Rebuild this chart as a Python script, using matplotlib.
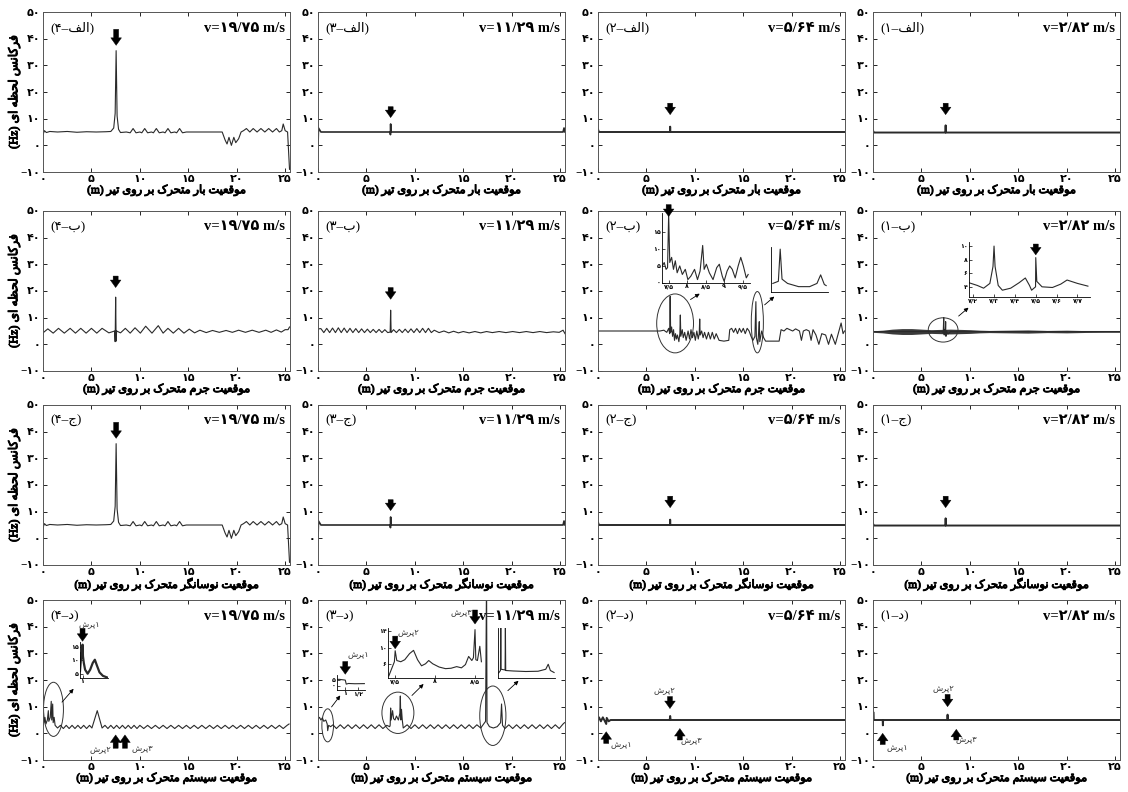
import matplotlib
matplotlib.use("Agg")
import matplotlib.pyplot as plt
import matplotlib.patheffects as pe
from matplotlib.patches import Ellipse

# ---- values ----
speeds = [19.75, 11.29, 5.64, 2.82]          # one per column, left to right
panel_nums = [4, 3, 2, 1]
row_letters = ["الف", "ب", "ج", "د"]
row_subjects = ["بار", "جرم", "نوسانگر", "سیستم"]
x_ticks = [0, 5, 10, 15, 20, 25]
y_ticks = [-10, 0, 10, 20, 30, 40, 50]

# moving load (rows الف and ج are the same curves)
load_v1975 = [(0, 4.0), (0.15, 5.5), (0.35, 4.8), (0.7, 5.2), (1.5, 5.0), (2.5, 5.2), (3.5, 4.9), (4.5, 5.1),
              (5.5, 5.0), (6.5, 5.1), (7.0, 5.2), (7.3, 6.5), (7.45, 12.0), (7.55, 35.5), (7.65, 11.0),
              (7.8, 6.0), (8.0, 4.8), (8.6, 5.0), (9.0, 4.7), (9.3, 6.3), (9.6, 4.7), (10.0, 5.0), (10.2, 4.7),
              (10.5, 6.3), (10.8, 4.7), (11.2, 5.0), (11.4, 4.7), (11.7, 6.3), (12.0, 4.7), (12.4, 5.0),
              (12.6, 4.7), (12.9, 6.3), (13.2, 4.7), (13.6, 5.0), (13.8, 4.7), (14.1, 6.3), (14.4, 4.7),
              (14.8, 5.0), (16.0, 5.0), (17.5, 5.0), (18.5, 5.0), (18.8, 2.0), (19.0, 0.5), (19.2, 3.0),
              (19.45, 0.0), (19.7, 3.0), (19.9, 1.0), (20.2, 2.5), (20.45, 5.0), (20.7, 5.5), (21.0, 6.3),
              (21.35, 5.0), (21.7, 6.3), (22.1, 5.0), (22.5, 6.3), (22.9, 5.0), (23.3, 6.3), (23.7, 5.0),
              (24.1, 6.3), (24.4, 5.0), (24.65, 5.5), (24.8, 8.0), (25.0, 5.5), (25.25, 5.0), (25.45, -9.0)]
load_v1129 = [(0, 0.0), (0.05, 6.5), (0.3, 5.0), (7.45, 5.0), (7.48, 4.0), (7.5, 8.0), (7.52, 5.0),
              (25.3, 5.0), (25.4, 6.5), (25.5, 5.0)]
load_v564 = [(0, 6.0), (0.1, 5.0), (7.43, 5.0), (7.45, 7.0), (7.47, 5.0), (25.5, 5.0)]
load_v282 = [(0, 5.5), (0.1, 4.8), (7.48, 4.8), (7.5, 7.5), (7.52, 4.8), (25.5, 4.8)]

# moving mass (row ب)
mass_v1975 = [(0, 4.3), (0.5, 5.8), (1.05, 4.2), (1.6, 6.0), (2.2, 4.2), (2.8, 6.0), (3.35, 4.2), (3.9, 6.0),
              (4.45, 4.2), (5.0, 6.0), (5.55, 4.2), (6.1, 6.0), (6.8, 4.3), (7.4, 5.0), (7.45, 1.0),
              (7.5, 17.7), (7.55, 1.2), (7.6, 5.0), (8.0, 4.3), (8.5, 6.0), (9.0, 4.2), (9.5, 6.2), (10.05, 4.2),
              (10.6, 6.8), (11.25, 4.2), (11.9, 7.0), (12.4, 4.2), (12.9, 6.0), (13.45, 4.2), (14.0, 6.0),
              (14.55, 4.2), (15.1, 5.7), (15.65, 4.3), (16.2, 5.3), (16.85, 4.4), (17.5, 5.2), (18.2, 4.5),
              (18.9, 5.2), (19.55, 4.5), (20.2, 5.3), (20.9, 4.5), (21.6, 5.3), (22.3, 4.5), (23.0, 5.3),
              (23.55, 4.5), (24.1, 5.4), (24.6, 4.6), (25.0, 5.5), (25.3, 5.5), (25.45, 6.5)]
mass_v1129 = [(0, 0.3), (0.05, 5.8), (0.3, 5.9), (0.6, 4.4), (0.9, 6.0), (1.2, 4.4), (1.5, 6.1), (1.8, 4.4),
              (2.1, 6.2), (2.4, 4.4), (2.7, 6.1), (3.0, 4.4), (3.3, 6.0), (3.6, 4.4), (3.9, 5.9), (4.2, 4.4),
              (4.5, 5.8), (4.8, 4.4), (5.1, 5.7), (5.4, 4.4), (5.7, 5.6), (6.0, 4.4), (6.3, 5.6), (6.6, 4.4),
              (6.9, 5.5), (7.2, 4.4), (7.45, 4.6), (7.5, 12.8), (7.55, 4.4), (7.8, 5.5), (8.1, 4.4), (8.4, 5.6),
              (8.7, 4.4), (9.0, 5.7), (9.3, 4.4), (9.6, 5.8), (9.9, 4.4), (10.2, 5.9), (10.5, 4.4), (10.8, 6.0),
              (11.1, 4.4), (11.4, 6.0), (11.7, 4.4), (12.0, 5.3), (12.5, 4.4), (13.0, 5.0), (13.5, 4.3),
              (14.0, 4.9), (14.5, 4.3), (15.0, 4.8), (15.6, 4.3), (16.2, 4.8), (16.8, 4.3), (17.4, 4.8),
              (18.0, 4.4), (18.7, 4.8), (19.4, 4.4), (20.1, 4.8), (20.8, 4.4), (21.5, 4.8), (22.2, 4.4),
              (22.9, 4.8), (23.6, 4.4), (24.3, 4.7), (24.9, 4.5), (25.3, 5.3), (25.5, 4.0)]
mass_v564 = [(0, 5.0), (6.4, 5.0), (6.8, 5.3), (7.1, 4.5), (7.3, 6.0), (7.4, 4.0), (7.45, 18.0), (7.5, 4.5),
             (7.6, 6.5), (7.7, 3.0), (7.8, 5.5), (7.9, 1.5), (8.0, 4.0), (8.1, 2.0), (8.2, 3.5), (8.35, 1.0),
             (8.45, 4.0), (8.5, 11.0), (8.55, 3.0), (8.7, 5.5), (8.8, 2.5), (8.95, 4.5), (9.1, 1.5), (9.3, 5.0),
             (9.45, 2.0), (9.6, 5.5), (9.75, 2.5), (9.9, 4.5), (10.05, 1.5), (10.2, 5.0), (10.35, 2.0),
             (10.45, 4.0), (10.5, 9.5), (10.55, 3.5), (10.7, 5.0), (10.85, 2.5), (11.0, 4.5), (11.2, 2.0),
             (11.4, 4.5), (11.6, 2.0), (11.8, 4.5), (12.0, 2.0), (12.2, 4.0), (12.5, 1.5), (13.0, 1.2),
             (13.5, 1.5), (13.6, 5.5), (13.8, 6.0), (14.0, 4.5), (14.2, 6.0), (14.4, 4.0), (14.6, 6.0),
             (14.8, 4.5), (15.0, 6.0), (15.2, 4.0), (15.4, 6.0), (15.6, 5.0), (15.8, 3.0), (16.0, 1.5),
             (16.2, 3.0), (16.3, 16.0), (16.35, 2.5), (16.5, 0.0), (16.6, 5.5), (16.65, 8.5), (16.7, 1.0),
             (16.9, 5.0), (17.1, 2.5), (17.3, 1.2), (18.0, 1.2), (18.7, 1.2), (18.9, 5.5), (19.2, 5.0),
             (19.5, 6.0), (19.8, 5.5), (20.1, 5.0), (20.4, 5.8), (20.8, 5.0), (21.0, 1.5), (21.2, 5.0),
             (21.5, 5.5), (21.8, 5.0), (22.0, 1.5), (22.2, 5.5), (22.5, 3.5), (22.8, 0.0), (23.1, 4.0),
             (23.5, 3.5), (23.8, 0.0), (24.1, 3.8), (24.5, 0.0), (24.8, 4.0), (25.1, 8.0), (25.3, 4.0),
             (25.45, 5.0)]
mass_v282 = [(0, 4.8), (7.2, 4.8), (7.25, 4.3), (7.3, 10.0), (7.35, 3.5), (7.43, 5.5), (7.47, 4.0),
             (7.5, 8.5), (7.51, 4.5), (7.53, 3.0), (7.6, 5.0), (7.73, 3.8), (8.0, 4.8), (25.5, 4.8)]
# envelope of the fast ripple on the v=2.82 mass curve
mass_v282_band_x = [0, 1, 2, 3, 4, 5, 6, 7, 8, 9, 10, 11, 12, 14, 16, 18, 20, 22, 24, 25.5]
mass_v282_band_hw = [0.3, 0.5, 0.9, 1.1, 1.1, 0.9, 0.7, 0.8, 0.9, 0.8, 0.7, 0.5, 0.4, 0.5, 0.6, 0.4, 0.5, 0.35, 0.3, 0.3]

# moving system (row د)
sys_v1975 = [(0, 3.0), (0.02, 14.5), (0.08, 4.0), (0.2, 6.0), (0.3, 3.5), (0.45, 5.0), (0.55, 8.5), (0.6, 4.5),
             (0.75, 6.0), (0.85, 12.0), (0.9, 5.0), (1.0, 11.0), (1.05, 4.0), (1.15, 6.0), (1.25, 3.0),
             (1.5, 2.0), (1.8, 3.0), (2.1, 1.8), (2.4, 3.0), (2.7, 1.8), (3.0, 3.0), (3.3, 1.8), (3.6, 3.0),
             (3.9, 1.8), (4.2, 3.0), (4.5, 1.8), (4.8, 3.0), (5.05, 2.0), (5.6, 8.5), (6.1, 2.0), (6.4, 3.0),
             (6.7, 1.8), (7.0, 3.0), (7.3, 1.8), (7.6, 3.0), (7.9, 1.8), (8.2, 3.0), (8.5, 1.8), (8.8, 3.0),
             (9.1, 1.8), (9.4, 3.0), (9.7, 1.8), (10.0, 3.0), (10.4, 1.8), (10.8, 3.0), (11.2, 1.8),
             (11.6, 3.0), (12.0, 1.8), (12.4, 3.0), (12.8, 1.8), (13.2, 3.0), (13.6, 1.8), (14.0, 3.0),
             (14.4, 1.8), (14.8, 3.0), (15.2, 1.8), (15.6, 3.0), (16.0, 1.8), (16.4, 3.0), (16.8, 1.8),
             (17.2, 3.0), (17.6, 1.8), (18.0, 3.0), (18.4, 1.8), (18.8, 3.0), (19.2, 1.8), (19.6, 3.0),
             (20.0, 1.8), (20.4, 3.0), (20.8, 1.8), (21.2, 3.0), (21.6, 1.8), (22.0, 3.0), (22.4, 1.8),
             (22.8, 3.0), (23.2, 1.8), (23.6, 3.0), (24.0, 1.8), (24.4, 3.0), (24.8, 1.8), (25.2, 3.0),
             (25.4, 3.5)]
sys_v1129 = [(0, 0.0), (0.03, 5.5), (0.15, 6.0), (0.3, 5.0), (0.45, 5.8), (0.6, 4.5), (0.8, 5.0), (0.95, 3.5),
             (1.0, 1.0), (1.1, 3.0), (1.3, 2.5), (1.55, 3.2), (1.9, 1.8), (2.3, 3.2), (2.7, 1.8), (3.1, 3.2),
             (3.5, 1.8), (3.9, 3.2), (4.3, 1.8), (4.7, 3.2), (5.1, 1.8), (5.5, 3.2), (5.9, 1.8), (6.3, 3.2),
             (6.7, 1.8), (7.1, 3.0), (7.4, 2.5), (7.45, 3.0), (7.5, 9.5), (7.55, 5.0), (7.7, 8.5), (7.8, 5.5),
             (7.95, 5.0), (8.1, 6.5), (8.3, 5.0), (8.45, 7.5), (8.5, 14.0), (8.55, 5.0), (8.62, 9.0),
             (8.7, 5.0), (8.8, 2.0), (9.2, 3.2), (9.6, 1.8), (10.0, 3.2), (10.4, 1.8), (10.8, 3.2), (11.2, 1.8),
             (11.6, 3.2), (12.0, 1.8), (12.4, 3.2), (12.8, 1.8), (13.2, 3.2), (13.6, 1.8), (14.0, 3.2),
             (14.4, 1.8), (14.8, 3.2), (15.2, 1.8), (15.6, 3.2), (16.0, 1.8), (16.4, 3.2), (16.8, 2.0),
             (17.1, 3.5), (17.3, 4.5), (17.4, 60.0), (17.45, 4.0), (17.7, 2.5), (18.1, 2.0), (18.5, 2.5),
             (18.85, 4.0), (18.95, 11.0), (19.05, 3.0), (19.3, 1.8), (19.7, 3.2), (20.1, 1.8), (20.5, 3.2),
             (20.9, 1.8), (21.3, 3.2), (21.7, 1.8), (22.1, 3.2), (22.5, 1.8), (22.9, 3.2), (23.3, 1.8),
             (23.7, 3.2), (24.1, 1.8), (24.5, 3.2), (24.9, 1.8), (25.3, 3.5), (25.45, 4.0)]
sys_v564 = [(0, 5.0), (0.1, 6.0), (0.3, 4.5), (0.5, 6.0), (0.7, 4.6), (0.85, 3.5), (0.9, 5.8), (1.1, 4.5),
            (1.3, 5.0), (7.4, 5.0), (7.45, 6.5), (7.5, 5.0), (25.5, 5.0)]
sys_v282 = [(0, 5.0), (0.03, 8.0), (0.08, 5.0), (1.0, 5.0), (1.02, 3.0), (1.05, 5.0), (7.65, 5.0), (7.7, 7.0),
            (7.75, 5.0), (25.5, 5.0)]

# zoomed insets
inset_mass_v564_a = [(7.33, 5.0), (7.38, 6.0), (7.43, 4.0), (7.47, 4.5), (7.5, 20.0), (7.53, 6.0), (7.58, 7.5),
                     (7.63, 4.0), (7.68, 6.5), (7.73, 3.0), (7.8, 5.0), (7.87, 2.5), (7.95, 4.0), (8.02, 1.0),
                     (8.1, 2.0), (8.2, 4.0), (8.28, 1.0), (8.35, 3.5), (8.42, 11.0), (8.46, 4.0), (8.52, 5.5),
                     (8.6, 3.0), (8.7, 1.0), (8.8, 4.5), (8.87, 5.5), (8.95, 2.0), (9.0, 0.5), (9.08, 3.5),
                     (9.15, 5.0), (9.22, 4.0), (9.3, 1.5), (9.38, 5.0), (9.45, 7.5), (9.52, 5.0), (9.6, 1.5),
                     (9.65, 2.5)]
inset_mass_v564_b = [(15.9, 4.0), (16.05, 5.0), (16.1, 20.0), (16.15, 6.0), (16.3, 4.0), (16.6, 2.5),
                     (16.9, 2.5), (17.1, 4.0), (17.2, 8.0), (17.3, 3.5), (17.35, 3.0)]
inset_mass_v282 = [(7.18, 4.6), (7.22, 4.2), (7.25, 3.8), (7.28, 4.5), (7.295, 7.0), (7.3, 10.0), (7.305, 7.0),
                   (7.32, 4.2), (7.34, 3.5), (7.38, 3.8), (7.42, 4.6), (7.45, 5.3), (7.47, 4.2), (7.48, 3.5),
                   (7.499, 4.0), (7.5, 8.3), (7.505, 4.8), (7.53, 4.0), (7.58, 3.9), (7.62, 4.4), (7.65, 5.0),
                   (7.7, 4.5), (7.75, 4.1)]
inset_sys_v1975 = [(0.97, 6.0), (0.98, 10.0), (0.99, 13.0), (0.995, 12.0), (1.0, 15.8), (1.005, 11.5),
                   (1.015, 9.0), (1.03, 6.5), (1.06, 5.0), (1.09, 6.5), (1.12, 9.0), (1.145, 10.2), (1.17, 8.0),
                   (1.2, 5.5), (1.24, 4.2), (1.29, 3.6)]
inset_sys_v1129_a = [(0.87, 5.0), (0.9, 5.2), (0.95, 4.9), (1.0, 4.6), (1.015, 1.5), (1.05, 2.0), (1.15, 1.8),
                     (1.3, 1.9)]
inset_sys_v1129_b = [(7.42, 3.0), (7.46, 5.0), (7.49, 6.5), (7.5, 9.2), (7.52, 6.8), (7.57, 6.5), (7.62, 7.0),
                     (7.68, 8.5), (7.73, 9.3), (7.78, 7.0), (7.83, 5.5), (7.88, 6.0), (7.92, 6.8), (7.97, 6.0),
                     (8.05, 5.2), (8.13, 4.8), (8.2, 4.9), (8.27, 5.3), (8.33, 5.0), (8.38, 5.8), (8.42, 7.8),
                     (8.46, 6.8), (8.48, 7.5), (8.5, 14.4), (8.51, 7.0), (8.53, 6.8), (8.56, 10.3), (8.58, 6.5)]
inset_sys_v1129_c = [(17.32, 2.0), (17.38, 3.0), (17.39, 20.0), (17.4, 3.5), (17.53, 3.2), (17.54, 20.0),
                     (17.55, 3.0), (17.8, 2.8), (18.2, 2.6), (18.6, 2.7), (18.85, 3.5), (18.93, 5.5), (19.0, 3.0),
                     (19.12, 2.2)]

# ---- Persian text helpers (matplotlib has no Arabic shaping) ----
FORMS = {  # isolated, final, initial, medial
    "ا": (0xFE8D, 0xFE8E, None, None), "ب": (0xFE8F, 0xFE90, 0xFE91, 0xFE92),
    "پ": (0xFB56, 0xFB57, 0xFB58, 0xFB59), "ت": (0xFE95, 0xFE96, 0xFE97, 0xFE98),
    "ج": (0xFE9D, 0xFE9E, 0xFE9F, 0xFEA0), "ح": (0xFEA1, 0xFEA2, 0xFEA3, 0xFEA4),
    "د": (0xFEA9, 0xFEAA, None, None), "ر": (0xFEAD, 0xFEAE, None, None),
    "س": (0xFEB1, 0xFEB2, 0xFEB3, 0xFEB4), "ش": (0xFEB5, 0xFEB6, 0xFEB7, 0xFEB8),
    "ظ": (0xFEC5, 0xFEC6, 0xFEC7, 0xFEC8), "ع": (0xFEC9, 0xFECA, 0xFECB, 0xFECC),
    "ف": (0xFED1, 0xFED2, 0xFED3, 0xFED4), "ق": (0xFED5, 0xFED6, 0xFED7, 0xFED8),
    "ک": (0xFB8E, 0xFB8F, 0xFB90, 0xFB91), "گ": (0xFB92, 0xFB93, 0xFB94, 0xFB95),
    "ل": (0xFEDD, 0xFEDE, 0xFEDF, 0xFEE0), "م": (0xFEE1, 0xFEE2, 0xFEE3, 0xFEE4),
    "ن": (0xFEE5, 0xFEE6, 0xFEE7, 0xFEE8), "ه": (0xFEE9, 0xFEEA, 0xFEEB, 0xFEEC),
    "و": (0xFEED, 0xFEEE, None, None), "ی": (0xFBFC, 0xFBFD, 0xFBFE, 0xFBFF),
}
FA_DIGITS = str.maketrans("0123456789.-", "۰۱۲۳۴۵۶۷۸۹/−")


def fa(text):
    # join letters with their contextual forms, then lay out right to left
    out = []
    for i, c in enumerate(text):
        if c not in FORMS:
            out.append(c)
            continue
        prev = text[i - 1] if i > 0 else ""
        nxt = text[i + 1] if i + 1 < len(text) else ""
        jp = prev in FORMS and FORMS[prev][2] is not None
        jn = nxt in FORMS and FORMS[c][2] is not None
        f = FORMS[c]
        out.append(chr(f[3] if jp and jn else f[1] if jp else f[2] if jn else f[0]))
    return "".join(out)[::-1]


def fa_num(v):
    return ("%g" % v).translate(FA_DIGITS)


# ---- layout ----
W, H = 1128, 792
plt.rcParams["font.family"] = ["Liberation Serif", "DejaVu Sans"]
plt.rcParams["font.weight"] = "bold"
fig = plt.figure(figsize=(W / 100, H / 100), dpi=100)
BOLD = [pe.withStroke(linewidth=0.7, foreground="black")]   # the Arabic glyphs only come in regular weight


def px_rect(l, t, r, b):
    return [l / W, 1 - b / H, (r - l) / W, (b - t) / H]


col_left = [43, 318, 598, 873]
row_top = [12, 211, 405, 600]
LINE = "#2a2a2a"


def big_arrow(ax, x, tip, tail, coords="data"):
    ax.annotate("", xy=(x, tip), xytext=(x, tail), xycoords=coords, textcoords=coords,
                annotation_clip=False,
                arrowprops=dict(arrowstyle="simple,head_length=0.6,head_width=0.85,tail_width=0.4",
                                fc="black", ec="black", lw=0.3, shrinkA=0, shrinkB=0, mutation_scale=9))


def small_arrow(ax, x0, y0, x1, y1):
    ax.annotate("", xy=(x1, y1), xytext=(x0, y0), annotation_clip=False,
                arrowprops=dict(arrowstyle="-|>", lw=0.6, color="black", shrinkA=0, shrinkB=0,
                                mutation_scale=6))


def jump_label(ax, n, x, y, coords=None, ha="center"):
    kw = dict(transform=coords) if coords is not None else {}
    ax.text(x, y, fa("پرش") + fa_num(n), fontsize=6, fontweight="normal", color="#333333",
            ha=ha, va="center", family=["DejaVu Sans"], **kw)


def add_inset(rect, pts, xlim, ylim, xt=None, yt=None, lw=0.8):
    iax = fig.add_axes(px_rect(*rect))
    iax.patch.set_alpha(0)
    iax.plot([p[0] for p in pts], [p[1] for p in pts], color=LINE, lw=lw)
    iax.set_xlim(*xlim)
    iax.set_ylim(*ylim)
    for s in ("top", "right"):
        iax.spines[s].set_visible(False)
    for s in ("left", "bottom"):
        iax.spines[s].set_linewidth(0.6)
    iax.tick_params(direction="in", length=2, width=0.5, labelsize=4.5, pad=1)
    iax.set_xticks(xt or [])
    iax.set_yticks(yt or [])
    if xt:
        iax.set_xticklabels([fa_num(v) for v in xt], family=["DejaVu Sans"])
    if yt:
        iax.set_yticklabels([fa_num(v) for v in yt], family=["DejaVu Sans"])
    return iax


curves = [
    [load_v1975, load_v1129, load_v564, load_v282],
    [mass_v1975, mass_v1129, mass_v564, mass_v282],
    [load_v1975, load_v1129, load_v564, load_v282],
    [sys_v1975, sys_v1129, sys_v564, sys_v282],
]
# line widths: thicker where a very fine ripple blurs the trace
widths = [
    [0.8, 1.2, 1.4, 1.4],
    [0.8, 0.8, 0.8, 0.8],
    [0.8, 1.2, 1.4, 1.4],
    [0.8, 0.8, 1.4, 1.4],
]
# marker arrows above the spike (x, tip, tail), rows الف / ب / ج
spike_arrows = {
    (0, 0): (7.55, 37.5, 43.5), (0, 1): (7.5, 10.4, 14.5), (0, 2): (7.45, 11.5, 15.8), (0, 3): (7.5, 11.5, 15.8),
    (1, 0): (7.5, 21.3, 25.6), (1, 1): (7.5, 16.9, 21.3),
    (2, 0): (7.55, 37.5, 43.5), (2, 1): (7.5, 10.4, 14.5), (2, 2): (7.45, 11.5, 15.8), (2, 3): (7.5, 11.5, 15.8),
}
axes = {}
for r in range(4):
    for c in range(4):
        ax = fig.add_axes(px_rect(col_left[c], row_top[r], col_left[c] + 247, row_top[r] + 160))
        axes[r, c] = ax
        pts = curves[r][c]
        if (r, c) == (1, 3):
            lo = [4.8 - h for h in mass_v282_band_hw]
            hi = [4.8 + h for h in mass_v282_band_hw]
            ax.fill_between(mass_v282_band_x, lo, hi, color="#3a3a3a", lw=0)
        ax.plot([p[0] for p in pts], [p[1] for p in pts], color=LINE, lw=widths[r][c])
        ax.set_xlim(0, 25.5)
        ax.set_ylim(-10, 50)
        ax.set_xticks(x_ticks)
        ax.set_yticks(y_ticks)
        ax.set_xticklabels([fa_num(v) for v in x_ticks])
        ax.set_yticklabels([fa_num(v) for v in y_ticks])
        ax.tick_params(direction="in", length=3, width=0.6, labelsize=8, pad=2,
                       top=True, right=True)
        for s in ax.spines.values():
            s.set_linewidth(0.7)
            s.set_color("#555555")
        xl = ax.set_xlabel("(m) " + fa("موقعیت " + row_subjects[r] + " متحرک بر روی تیر"),
                           fontsize=8.2, labelpad=1)
        xl.set_path_effects(BOLD)
        if c == 0:
            yl = ax.set_ylabel("(Hz) " + fa("فرکانس لحظه ای"), fontsize=8.8, labelpad=0)
            yl.set_path_effects(BOLD)
        ax.text(0.03, 0.9, "(" + fa_num(panel_nums[c]) + "–" + fa(row_letters[r]) + ")",
                transform=ax.transAxes, fontsize=9.5, fontweight="normal", ha="left", va="center")
        ax.text(0.98, 0.9, "v=" + fa_num(speeds[c]) + " m/s", transform=ax.transAxes,
                fontsize=10.5, ha="right", va="center")
        if (r, c) in spike_arrows:
            big_arrow(ax, *spike_arrows[r, c])

# row ب, v=5.64: two zooms
ax = axes[1, 2]
for e in [(7.96, 7.85, 3.8, 22.1), (16.45, 8.3, 1.25, 23.0)]:
    ax.add_patch(Ellipse(e[:2], e[2], e[3], fill=False, lw=0.7, ec="#333333"))
small_arrow(ax, 9.55, 16.8, 10.5, 19.0)
small_arrow(ax, 17.2, 14.8, 18.2, 17.9)
iax = add_inset((662, 213, 750, 283), inset_mass_v564_a, (7.32, 9.7), (0, 20.5),
                [7.5, 8, 8.5, 9, 9.5], [0, 5, 10, 15])
big_arrow(iax, 7.5, 0.95, 1.12, coords=("data", "axes fraction"))
add_inset((771, 247, 828, 292), inset_mass_v564_b, (15.85, 17.4), (0, 21))

# row ب, v=2.82
ax = axes[1, 3]
ax.add_patch(Ellipse((7.24, 5.4), 3.07, 9.1, fill=False, lw=0.7, ec="#333333"))
small_arrow(ax, 8.84, 10.6, 9.86, 13.75)
iax = add_inset((969, 242, 1090, 297), inset_mass_v282, (7.18, 7.76), (2.5, 10.6),
                [7.2, 7.3, 7.4, 7.5, 7.6, 7.7], [4, 6, 8, 10])
big_arrow(iax, 7.5, 8.7, 10.3)

# row د, v=19.75
ax = axes[3, 0]
ax.add_patch(Ellipse((1.08, 9.0), 2.06, 20.3, fill=False, lw=0.7, ec="#333333", clip_on=False))
small_arrow(ax, 1.96, 11.7, 3.16, 16.7)
big_arrow(ax, 7.5, -0.6, -5.6)
big_arrow(ax, 8.46, -0.6, -5.6)
jump_label(ax, 2, 5.9, -5.8)
jump_label(ax, 3, 10.3, -5.8)
iax = add_inset((80, 642, 108, 678), inset_sys_v1975, (0.97, 1.3), (3.4, 16.8), [1], [5, 10, 15], lw=1.6)
big_arrow(iax, 1.0, 1.02, 1.38, coords=("data", "axes fraction"))
jump_label(iax, 1, 1.08, 1.5, coords=iax.get_xaxis_transform())

# row د, v=11.29
ax = axes[3, 1]
for e in [(1.0, 3.0, 1.2, 12.4), (8.25, 7.7, 3.3, 15.5), (18.05, 6.6, 2.7, 22.3)]:
    ax.add_patch(Ellipse(e[:2], e[2], e[3], fill=False, lw=0.7, ec="#333333"))
small_arrow(ax, 1.4, 9.9, 2.3, 14.2)
small_arrow(ax, 9.7, 14.2, 10.9, 18.5)
small_arrow(ax, 19.6, 16.0, 20.7, 19.7)
iax = add_inset((337, 675, 365, 690), inset_sys_v1129_a, (0.87, 1.31), (-3, 8.5), [1, 1.2], [0, 5])
big_arrow(iax, 1.0, 1.05, 1.9, coords=("data", "axes fraction"))
jump_label(iax, 1, 1.2, 2.4, coords=iax.get_xaxis_transform())
iax = add_inset((388, 628, 483, 678), inset_sys_v1129_b, (7.41, 8.6), (2.5, 14.8), [7.5, 8, 8.5], [6, 10, 14])
big_arrow(iax, 7.5, 9.7, 12.8)
jump_label(iax, 2, 7.66, 13.8)
big_arrow(iax, 8.5, 1.08, 1.36, coords=("data", "axes fraction"))
jump_label(iax, 3, 8.46, 1.3, coords=iax.get_xaxis_transform(), ha="right")
add_inset((498, 628, 555, 678), inset_sys_v1129_c, (17.3, 19.15), (0, 20))

# row د, v=5.64 and v=2.82: jump markers
jumps = {
    2: [(0.85, 0.6, -3.8, 1, 2.4, -3.8), (7.43, 9.3, 13.8, 2, 6.9, 16.3), (8.45, 1.8, -2.5, 3, 9.6, -2.8)],
    3: [(1.0, 0.0, -4.2, 1, 2.5, -4.8), (7.7, 10.0, 14.6, 2, 7.25, 17.0), (8.6, 1.5, -2.5, 3, 9.6, -2.3)],
}
for c, marks in jumps.items():
    for x, tip, tail, n, lx, ly in marks:
        big_arrow(axes[3, c], x, tip, tail)
        jump_label(axes[3, c], n, lx, ly)

fig.savefig("out.png", dpi=100)
